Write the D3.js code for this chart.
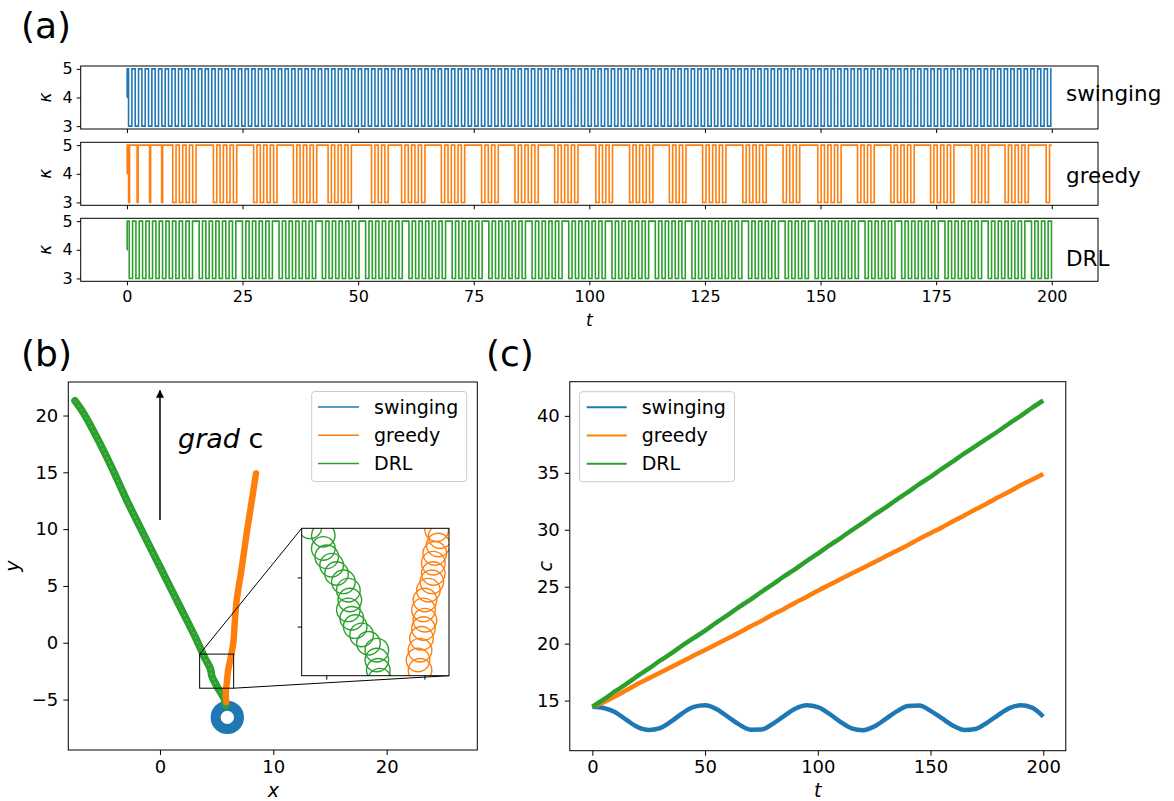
<!DOCTYPE html>
<html><head><meta charset="utf-8">
<script src="https://cdn.jsdelivr.net/npm/d3@7"></script>
<style>
body{margin:0;background:#fff;}
text{font-family:"DejaVu Sans",sans-serif;fill:#000;}
</style>
</head><body>
<svg id="chart" width="1174" height="801"></svg>
<script>
// ---------------- DATA ----------------
const seriesNames = ["swinging", "greedy", "DRL"];
const seriesColors = ["#1f77b4", "#ff7f0e", "#2ca02c"];

// panel (a): kappa switching
const kappaTicks = [3, 4, 5];
const tTicksA = [0, 25, 50, 75, 100, 125, 150, 175, 200];
const kappaHalfPeriod = 0.72;      // duration of one kappa=3 pulse (read)
const kappaEnd = 200;
const swingFirstLow = 0.35;
const greedySpikes = [0.35, 2.2, 4.9, 7.5];
const greedyGroupStarts = [9.9, 18.7, 27.4, 36.0, 43.5, 52.9, 59.4, 68.0, 76.7, 83.9, 92.5, 101.4, 108.7, 117.3, 124.5, 133.2, 141.9, 149.4, 158.0, 165.2, 173.8, 182.7, 189.9, 198.8];
const greedyGroupSizes  = [4, 4, 4, 4, 4, 3, 4, 4, 3, 4, 4, 3, 4, 3, 4, 4, 3, 4, 3, 4, 4, 3, 4, 1];
const drlFirstLow = 0.5;
const drlGapTimes = [14.0, 23.8, 31.7, 41.5, 50.0, 59.0, 68.7, 77.0, 86.0, 94.3, 104.0, 113.0, 120.9, 132.4, 140.4, 147.6, 158.0, 165.9, 174.9, 184.7, 194.3];

// panel (b): trajectories
const xTicksB = [0, 10, 20];
const yTicksB = [-5, 0, 5, 10, 15, 20];
const drlPath = [[-7.5,21.3],[-6.8,20.3],[-5.3,17.55],[-4.2,15.3],[-2.94,12.56],[-1.77,10.2],[0,6.69],[1.47,3.76],[3.24,0.24],[3.94,-1.3],[4.45,-2.3],[4.6,-3.0],[5.06,-3.9],[5.7,-5.0],[5.8,-5.5]];
const greedyPath = [[5.85,-5.2],[5.8,-4.4],[5.9,-3.5],[6.0,-2.5],[6.2,-1.5],[6.47,0],[6.6,1.8],[6.77,3.76],[7.2,6.5],[7.65,9.63],[8.1,12.5],[8.47,14.9]];
const swingCenter = [5.94, -6.57];
const swingRadius = 1.03;
const insetX = [3.5, 6.5];
const insetY = [-4, -1];
const insetXTicks = [4, 6];
const insetYTicks = [-3, -2];
const insetCircleR = 0.24;
const drlInsetCircles = [[3.67,-0.97],[3.94,-1.14],[3.94,-1.41],[4.01,-1.58],[4.11,-1.75],[4.21,-1.92],[4.35,-2.09],[4.45,-2.26],[4.48,-2.46],[4.45,-2.66],[4.52,-2.83],[4.59,-3.0],[4.72,-3.17],[4.86,-3.34],[5.03,-3.48],[5.03,-3.68],[5.06,-3.89],[5.09,-4.09]];
const greedyInsetCircles = [[5.91,-3.89],[5.87,-3.68],[5.91,-3.48],[5.94,-3.24],[5.98,-3.04],[6.01,-2.87],[5.98,-2.66],[6.01,-2.46],[6.08,-2.26],[6.15,-2.09],[6.18,-1.92],[6.18,-1.71],[6.21,-1.51],[6.28,-1.34],[6.32,-1.17],[6.25,-1.03]];
const arrowFrom = [0, 10.8];
const arrowTo = [0, 22.2];

// panel (c): concentration
const xTicksC = [0, 50, 100, 150, 200];
const yTicksC = [15, 20, 25, 30, 35, 40];
const tC = [0,5,10,15,20,25,30,35,40,45,50,55,60,65,70,75,80,85,90,95,100,105,110,115,120,125,130,135,140,145,150,155,160,165,170,175,180,185,190,195,200];
const cSwinging = [14.45,14.35,14.0,13.32,12.68,12.42,12.59,13.17,13.9,14.45,14.58,14.26,13.59,12.91,12.45,12.46,12.95,13.64,14.28,14.58,14.42,13.85,13.14,12.57,12.4,12.72,13.37,14.05,14.53,14.56,14.1,13.45,12.8,12.42,12.51,13.05,13.73,14.34,14.58,14.38,13.6];
const cGreedy = [14.45,14.85,15.35,15.9,16.45,16.95,17.45,17.95,18.45,18.95,19.45,19.95,20.45,20.95,21.5,22.0,22.55,23.05,23.6,24.1,24.65,25.15,25.65,26.15,26.65,27.15,27.65,28.15,28.65,29.2,29.7,30.2,30.75,31.25,31.8,32.3,32.85,33.35,33.9,34.4,34.9];
const cDRL = [14.45,15.1,15.8,16.45,17.15,17.8,18.5,19.15,19.85,20.5,21.15,21.85,22.5,23.2,23.85,24.55,25.2,25.9,26.55,27.25,27.9,28.6,29.25,29.95,30.6,31.3,31.95,32.65,33.3,34.0,34.65,35.35,36.0,36.7,37.35,38.0,38.65,39.35,40.0,40.7,41.35];

// ---------------- DRAWING ----------------
const svg = d3.select("#chart");
const defs = svg.append("defs");

function styleAxis(g, fs) {
  g.select(".domain").remove();
  g.selectAll(".tick line").attr("stroke", "#000").attr("stroke-width", 1);
  g.selectAll(".tick text").attr("font-size", fs).attr("font-family", "DejaVu Sans").attr("fill", "#000");
}

// ---------- Panel (a) ----------
svg.append("text").attr("x", 21).attr("y", 38).attr("font-size", 36).text("(a)");
const aLeft = 80.7, aRight = 1098;
const stripTops = [66, 142.3, 218.3], stripH = 63;
const xA = d3.scaleLinear().domain([-10, 210]).range([aLeft, aRight]);
const h = kappaHalfPeriod;

function buildSwing() {
  const p = [[0,4],[0.05,5]];
  let t = swingFirstLow;
  while (t < kappaEnd) {
    p.push([t,3]);
    if (t + h >= kappaEnd) break;
    p.push([t + h, 5]);
    t += 2*h;
  }
  p.push([kappaEnd, p[p.length-1][1]]);
  return p;
}
function buildGreedy() {
  const p = [[0,4],[0.05,5]];
  greedySpikes.forEach(s => { p.push([s,3]); p.push([s+0.22,5]); });
  greedyGroupStarts.forEach((g, i) => {
    for (let k = 0; k < greedyGroupSizes[i]; k++) {
      const lo = g + k*2*h;
      p.push([lo,3]); p.push([Math.min(lo+h, kappaEnd),5]);
    }
  });
  p.push([kappaEnd, 5]);
  return p;
}
function buildDRL() {
  const p = [[0,4],[0.05,5]];
  let t = drlFirstLow, gi = 0;
  while (t < kappaEnd) {
    if (gi < drlGapTimes.length && drlGapTimes[gi] <= t) { t += h; gi++; }
    if (t >= kappaEnd) break;
    p.push([t,3]);
    if (t + h >= kappaEnd) break;
    p.push([t+h,5]);
    t += 2*h;
  }
  p.push([kappaEnd, p[p.length-1][1]]);
  return p;
}
const kappaSeries = [buildSwing(), buildGreedy(), buildDRL()];
const rightLabelY = [101, 183, 266];

stripTops.forEach((top, i) => {
  const yK = d3.scaleLinear().domain([2.9, 5.1]).range([top + stripH, top]);
  const cid = "clipA" + i;
  defs.append("clipPath").attr("id", cid).append("rect")
    .attr("x", aLeft).attr("y", top).attr("width", aRight - aLeft).attr("height", stripH);
  const line = d3.line().curve(d3.curveStepAfter).x(d => xA(d[0])).y(d => yK(d[1]));
  svg.append("path").datum(kappaSeries[i]).attr("d", line)
    .attr("fill", "none").attr("stroke", seriesColors[i]).attr("stroke-width", 1.6)
    .attr("clip-path", `url(#${cid})`);
  svg.append("rect").attr("x", aLeft).attr("y", top).attr("width", aRight - aLeft).attr("height", stripH)
    .attr("fill", "none").attr("stroke", "#000").attr("stroke-width", 1);
  const gy = svg.append("g").attr("transform", `translate(${aLeft},0)`)
    .call(d3.axisLeft(yK).tickValues(kappaTicks).tickSize(4).tickPadding(4).tickFormat(d3.format("d")));
  styleAxis(gy, 16);
  const gx = svg.append("g").attr("transform", `translate(0,${top + stripH})`)
    .call(d3.axisBottom(xA).tickValues(tTicksA).tickSize(4).tickPadding(5)
      .tickFormat(i === 2 ? d3.format("d") : () => ""));
  styleAxis(gx, 16);
  svg.append("text").attr("transform", `translate(51,${top + stripH/2}) rotate(-90)`)
    .attr("text-anchor", "middle").attr("font-size", 17).attr("font-style", "italic").text("κ");
  svg.append("text").attr("x", 1066).attr("y", rightLabelY[i]).attr("font-size", 21.5).text(seriesNames[i]);
});
svg.append("text").attr("x", xA(100)).attr("y", 326).attr("text-anchor", "middle")
  .attr("font-size", 17).attr("font-style", "italic").text("t");

// ---------- Panel (b) ----------
svg.append("text").attr("x", 21).attr("y", 366).attr("font-size", 36).text("(b)");
const bL = 68.3, bR = 477.3, bT = 382, bB = 750;
const xB = d3.scaleLinear().domain([-8.09, 28.0]).range([bL, bR]);
const yB = d3.scaleLinear().domain([-9.44, 22.95]).range([bB, bT]);
defs.append("clipPath").attr("id", "clipB").append("rect")
  .attr("x", bL).attr("y", bT).attr("width", bR - bL).attr("height", bB - bT);
const gB = svg.append("g").attr("clip-path", "url(#clipB)");
const pathLine = d3.line().curve(d3.curveCatmullRom).x(d => xB(d[0])).y(d => yB(d[1]));

// blue ring (swinging)
gB.append("circle").attr("cx", xB(swingCenter[0])).attr("cy", yB(swingCenter[1]))
  .attr("r", xB(swingRadius) - xB(0)).attr("fill", "none")
  .attr("stroke", seriesColors[0]).attr("stroke-width", 10);
// green trail
gB.append("path").datum(drlPath).attr("d", pathLine).attr("fill", "none")
  .attr("stroke", seriesColors[2]).attr("stroke-width", 7.5).attr("stroke-linecap", "round").attr("stroke-linejoin", "round");
gB.append("path").datum(drlPath).attr("d", pathLine).attr("fill", "none")
  .attr("stroke", "#ffffff").attr("stroke-opacity", 0.35).attr("stroke-width", 1).attr("stroke-dasharray", "2,3");
// orange trail
gB.append("path").datum(greedyPath).attr("d", pathLine).attr("fill", "none")
  .attr("stroke", seriesColors[1]).attr("stroke-width", 6.5).attr("stroke-linecap", "round").attr("stroke-linejoin", "round");

// arrow
defs.append("marker").attr("id", "ahead").attr("viewBox", "0 0 10 10").attr("refX", 9).attr("refY", 5)
  .attr("markerWidth", 8).attr("markerHeight", 8).attr("markerUnits", "userSpaceOnUse").attr("orient", "auto")
  .append("path").attr("d", "M0,0 L10,5 L0,10 Z").attr("fill", "#000");
svg.append("line").attr("x1", xB(arrowFrom[0])).attr("y1", yB(arrowFrom[1]))
  .attr("x2", xB(arrowTo[0])).attr("y2", yB(arrowTo[1]))
  .attr("stroke", "#000").attr("stroke-width", 1.5).attr("marker-end", "url(#ahead)");
const gt = svg.append("text").attr("x", 178).attr("y", 448).attr("font-size", 27);
gt.append("tspan").attr("font-style", "italic").text("grad");
gt.append("tspan").text(" c");

// zoom rectangle + connectors
const inL = 301.7, inR = 449, inT = 528.3, inB = 675.7;
svg.append("rect").attr("x", xB(insetX[0])).attr("y", yB(insetY[1]))
  .attr("width", xB(insetX[1]) - xB(insetX[0])).attr("height", yB(insetY[0]) - yB(insetY[1]))
  .attr("fill", "none").attr("stroke", "#000").attr("stroke-width", 1);
svg.append("line").attr("x1", xB(insetX[0])).attr("y1", yB(insetY[1])).attr("x2", inL).attr("y2", inT)
  .attr("stroke", "#000").attr("stroke-width", 1);
svg.append("line").attr("x1", xB(insetX[1])).attr("y1", yB(insetY[0])).attr("x2", inR).attr("y2", inB)
  .attr("stroke", "#000").attr("stroke-width", 1);

// inset
const xI = d3.scaleLinear().domain(insetX).range([inL, inR]);
const yI = d3.scaleLinear().domain(insetY).range([inB, inT]);
svg.append("rect").attr("x", inL).attr("y", inT).attr("width", inR - inL).attr("height", inB - inT).attr("fill", "#fff");
defs.append("clipPath").attr("id", "clipI").append("rect")
  .attr("x", inL).attr("y", inT).attr("width", inR - inL).attr("height", inB - inT);
const gI = svg.append("g").attr("clip-path", "url(#clipI)");
gI.selectAll("circle.g").data(greedyInsetCircles).join("circle")
  .attr("cx", d => xI(d[0])).attr("cy", d => yI(d[1])).attr("r", xI(insetCircleR) - xI(0))
  .attr("fill", "none").attr("stroke", seriesColors[1]).attr("stroke-width", 1.4);
gI.selectAll("circle.d").data(drlInsetCircles).enter().append("circle")
  .attr("cx", d => xI(d[0])).attr("cy", d => yI(d[1])).attr("r", xI(insetCircleR) - xI(0))
  .attr("fill", "none").attr("stroke", seriesColors[2]).attr("stroke-width", 1.4);
svg.append("rect").attr("x", inL).attr("y", inT).attr("width", inR - inL).attr("height", inB - inT)
  .attr("fill", "none").attr("stroke", "#000").attr("stroke-width", 1);
const giX = svg.append("g").attr("transform", `translate(0,${inB})`)
  .call(d3.axisBottom(xI).tickValues(insetXTicks).tickSize(4).tickFormat(() => ""));
styleAxis(giX, 10);
const giY = svg.append("g").attr("transform", `translate(${inL},0)`)
  .call(d3.axisLeft(yI).tickValues(insetYTicks).tickSize(4).tickFormat(() => ""));
styleAxis(giY, 10);

// frame + axes (b)
svg.append("rect").attr("x", bL).attr("y", bT).attr("width", bR - bL).attr("height", bB - bT)
  .attr("fill", "none").attr("stroke", "#000").attr("stroke-width", 1);
styleAxis(svg.append("g").attr("transform", `translate(0,${bB})`)
  .call(d3.axisBottom(xB).tickValues(xTicksB).tickSize(5).tickPadding(5).tickFormat(d3.format("d"))), 18);
styleAxis(svg.append("g").attr("transform", `translate(${bL},0)`)
  .call(d3.axisLeft(yB).tickValues(yTicksB).tickSize(5).tickPadding(5).tickFormat(d3.format("d"))), 18);
svg.append("text").attr("x", xB(10)).attr("y", 797).attr("text-anchor", "middle")
  .attr("font-size", 19).attr("font-style", "italic").text("x");
svg.append("text").attr("transform", `translate(19,${(bT + bB)/2}) rotate(-90)`).attr("text-anchor", "middle")
  .attr("font-size", 19).attr("font-style", "italic").text("y");

function legend(x, y, lineX1, lineX2, textX, lw) {
  svg.append("rect").attr("x", x).attr("y", y).attr("width", 155).attr("height", 90).attr("rx", 3)
    .attr("fill", "#fff").attr("fill-opacity", 0.8).attr("stroke", "#cccccc").attr("stroke-width", 1);
  seriesNames.forEach((n, i) => {
    const yy = y + 15.5 + i * 28.3;
    svg.append("line").attr("x1", lineX1).attr("x2", lineX2).attr("y1", yy).attr("y2", yy)
      .attr("stroke", seriesColors[i]).attr("stroke-width", lw);
    svg.append("text").attr("x", textX).attr("y", yy).attr("dy", "0.35em").attr("font-size", 19).text(n);
  });
}
legend(311.7, 391.5, 318, 359, 374, 1.5);

// ---------- Panel (c) ----------
svg.append("text").attr("x", 486).attr("y", 366).attr("font-size", 36).text("(c)");
const cL = 569.8, cR = 1065.8, cT = 381.7, cB = 750.7;
const xC = d3.scaleLinear().domain([-10, 210]).range([cL, cR]);
const yC = d3.scaleLinear().domain([10.6, 43.0]).range([cB, cT]);
const cSeries = [cSwinging, cGreedy, cDRL];
const lineC = d3.line().curve(d3.curveMonotoneX).x((d, i) => xC(tC[i])).y(d => yC(d));
cSeries.forEach((s, i) => {
  svg.append("path").datum(s).attr("d", lineC).attr("fill", "none")
    .attr("stroke", seriesColors[i]).attr("stroke-width", 4.5).attr("stroke-linejoin", "round");
});
svg.append("rect").attr("x", cL).attr("y", cT).attr("width", cR - cL).attr("height", cB - cT)
  .attr("fill", "none").attr("stroke", "#000").attr("stroke-width", 1);
styleAxis(svg.append("g").attr("transform", `translate(0,${cB})`)
  .call(d3.axisBottom(xC).tickValues(xTicksC).tickSize(5).tickPadding(5).tickFormat(d3.format("d"))), 18);
styleAxis(svg.append("g").attr("transform", `translate(${cL},0)`)
  .call(d3.axisLeft(yC).tickValues(yTicksC).tickSize(5).tickPadding(5).tickFormat(d3.format("d"))), 18);
svg.append("text").attr("x", xC(100)).attr("y", 797).attr("text-anchor", "middle")
  .attr("font-size", 19).attr("font-style", "italic").text("t");
svg.append("text").attr("transform", `translate(552,${(cT + cB)/2}) rotate(-90)`).attr("text-anchor", "middle")
  .attr("font-size", 19).attr("font-style", "italic").text("c");
legend(579.5, 391.7, 586.7, 626.7, 641.7, 2);
</script>
</body></html>
